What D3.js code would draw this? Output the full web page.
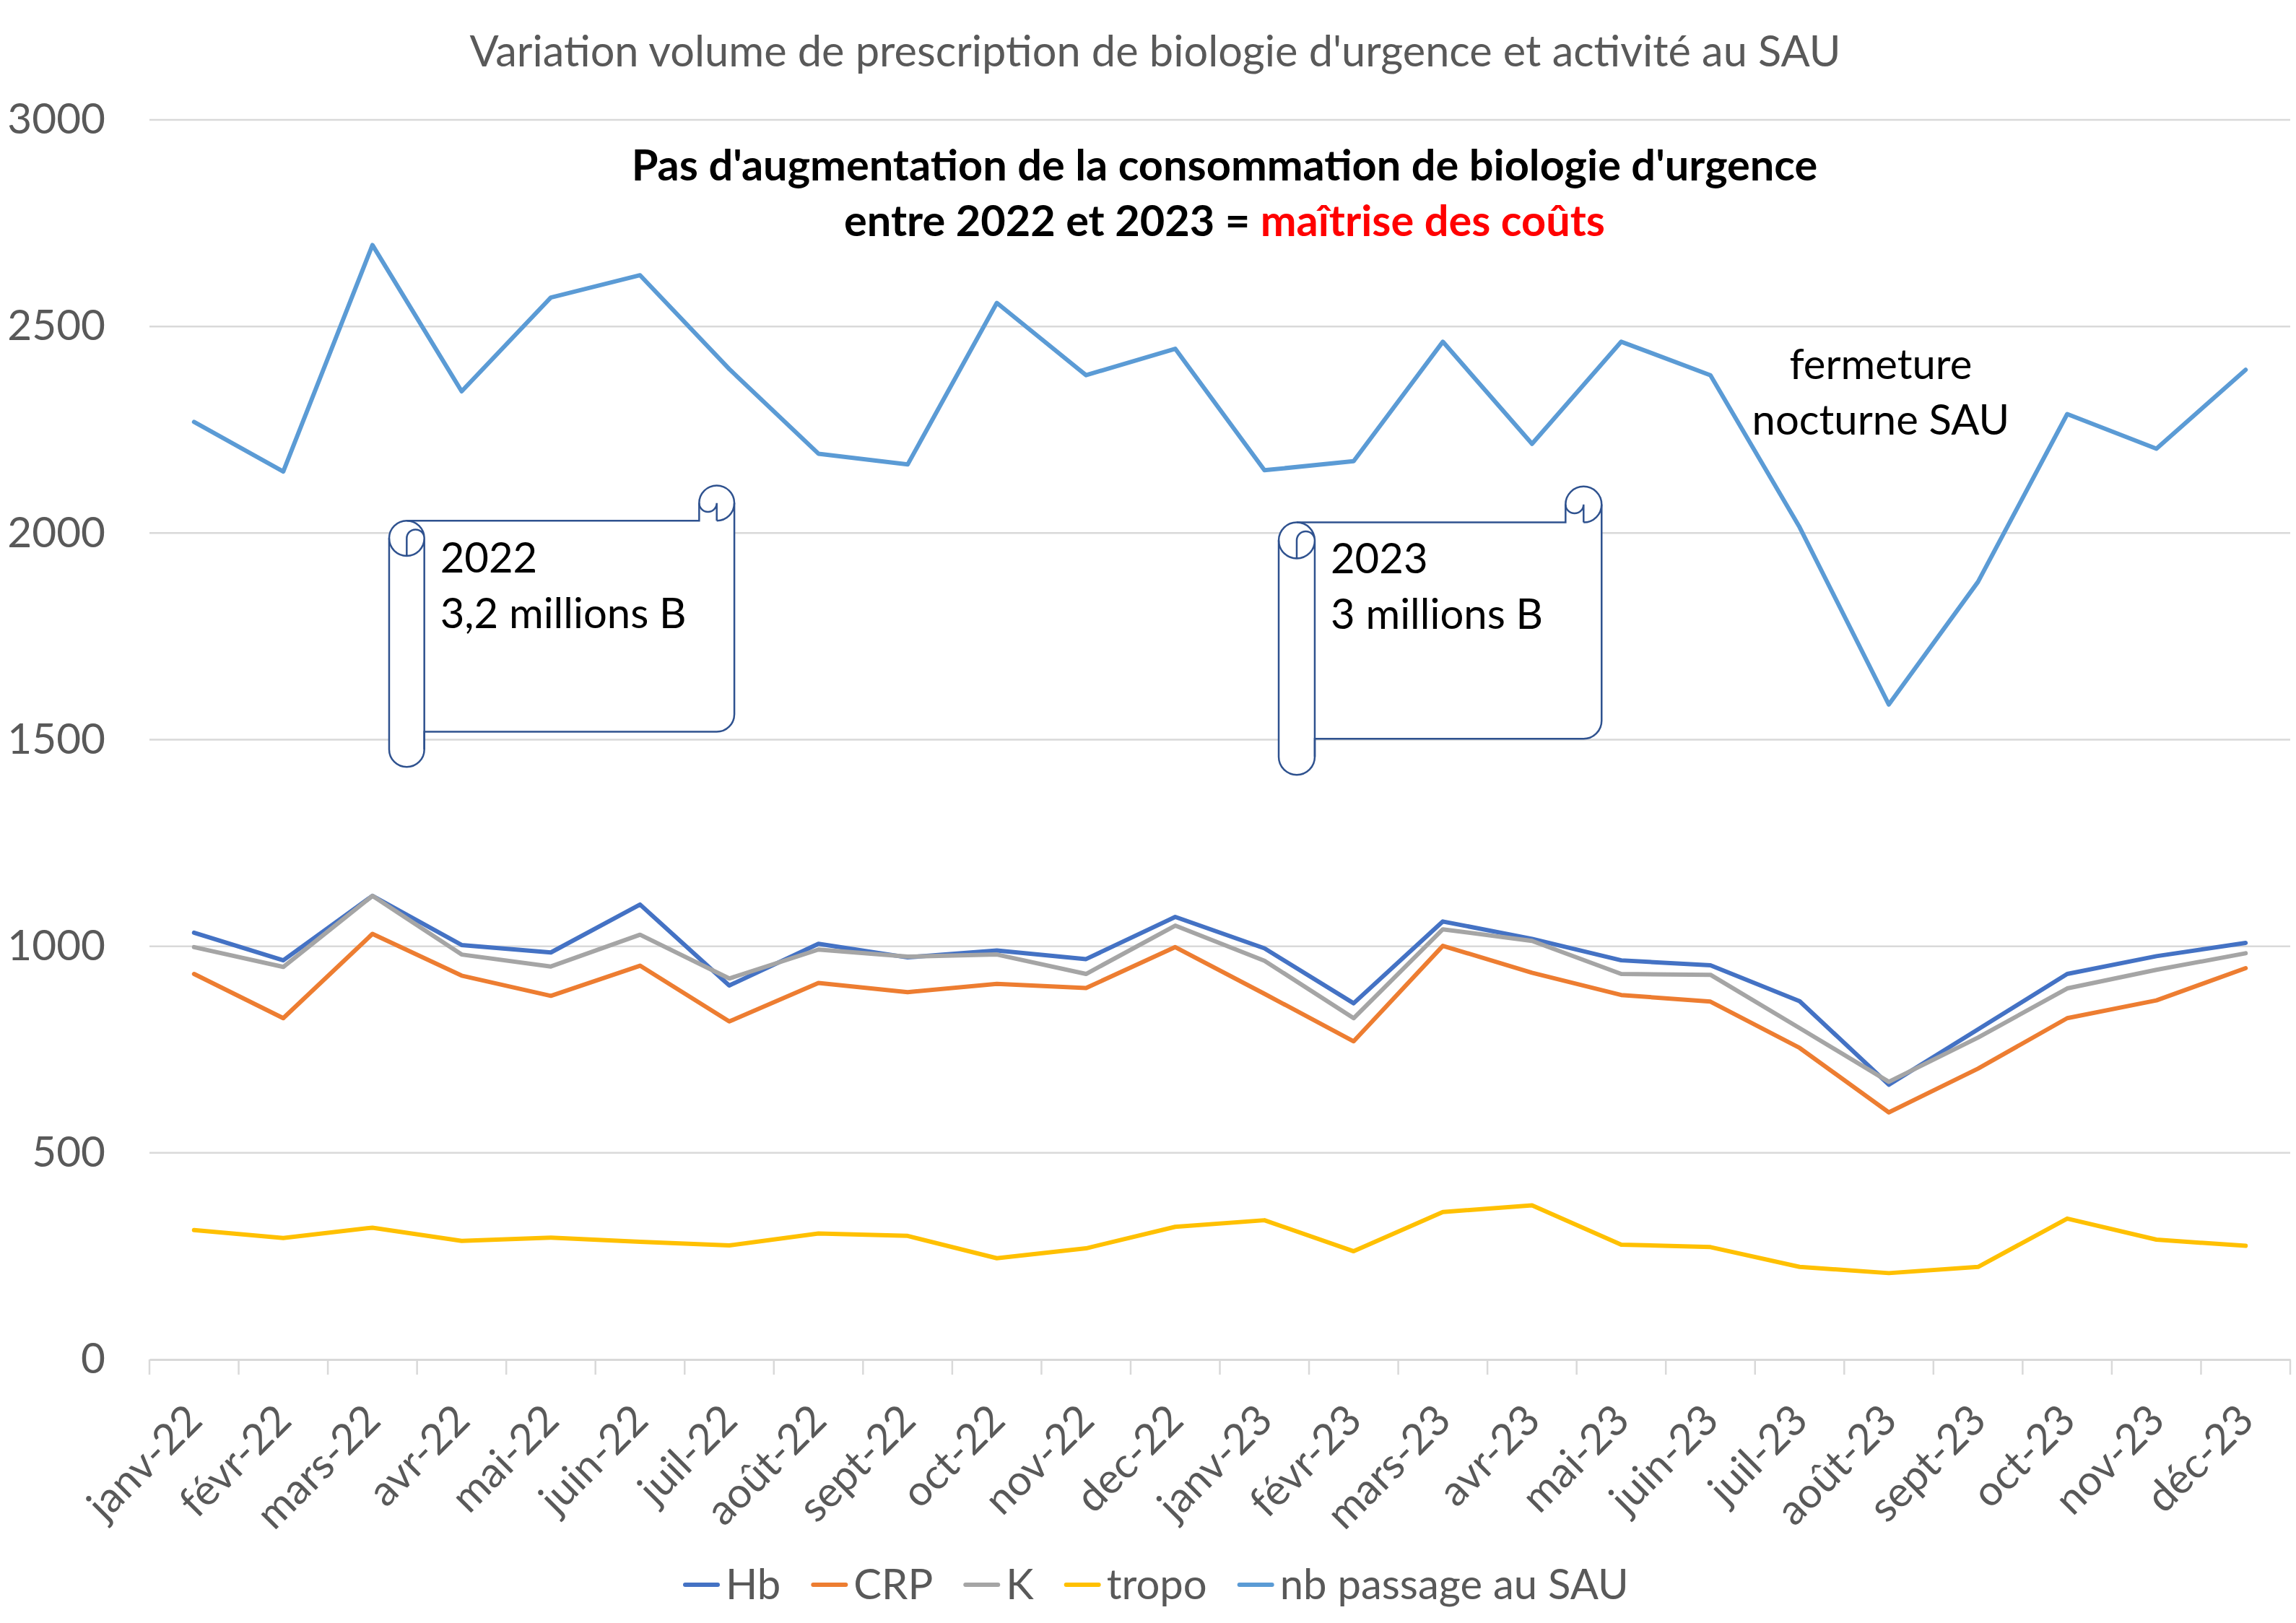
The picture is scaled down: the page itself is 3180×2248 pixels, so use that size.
<!DOCTYPE html>
<html>
<head>
<meta charset="utf-8">
<script src="https://cdn.jsdelivr.net/npm/d3@7"></script>
<style>
  body { margin: 0; background: #fff; }
  text { font-family: Lato, "Open Sans", sans-serif; }
</style>
</head>
<body>
<div id="chart"></div>
<script>
// months on the x axis
const months = ["janv-22", "févr-22", "mars-22", "avr-22", "mai-22", "juin-22", "juil-22", "août-22",
    "sept-22", "oct-22", "nov-22", "dec-22", "janv-23", "févr-23", "mars-23", "avr-23", "mai-23",
    "juin-23", "juil-23", "août-23", "sept-23", "oct-23", "nov-23", "déc-23"];

const hb    = [1033, 966, 1122, 1003, 985, 1101, 905, 1006, 973, 990, 969, 1071, 995, 862, 1060, 1018, 966, 954, 867, 665, 799, 933, 976, 1008];
const crp   = [933, 826, 1030, 929, 880, 953, 818, 911, 889, 909, 899, 998, 885, 770, 1001, 936, 882, 866, 754, 598, 704, 826, 869, 947];
const kal   = [998, 950, 1122, 980, 951, 1028, 922, 992, 975, 980, 933, 1050, 965, 826, 1041, 1013, 933, 931, 802, 672, 779, 898, 943, 983];
const tropo = [313, 294, 319, 287, 295, 285, 276, 305, 299, 245, 269, 321, 337, 262, 357, 373, 278, 272, 224, 209, 224, 341, 290, 275];
const sau   = [2269, 2149, 2697, 2343, 2570, 2624, 2397, 2192, 2166, 2557, 2382, 2446, 2152, 2174, 2463, 2216, 2463, 2382, 2014, 1585, 1882, 2288, 2204, 2395];

const yTicks = [0, 500, 1000, 1500, 2000, 2500, 3000];

const seriesNames = ["Hb", "CRP", "K", "tropo", "nb passage au SAU"];
const seriesValues = [hb, crp, kal, tropo, sau];
const seriesColors = ["#4472C4", "#ED7D31", "#A5A5A5", "#FFC000", "#5B9BD5"];

const title = "Variation volume de prescription de biologie d'urgence et activité au SAU";

const width = 3180, height = 2248;
const plot = { left: 207, right: 3172, top: 166, bottom: 1883 };

const svg = d3.select("#chart").append("svg")
    .attr("width", width)
    .attr("height", height);

svg.append("rect").attr("width", width).attr("height", height).attr("fill", "#fff");

const x = d3.scaleBand().domain(months).range([plot.left, plot.right]).padding(0);
const xc = d => x(d) + x.bandwidth() / 2;
// continuous position in "category units" used for annotations
const xu = d3.scaleLinear().domain([0, months.length]).range([plot.left, plot.right]);
const y = d3.scaleLinear().domain([0, 3000]).range([plot.bottom, plot.top]);

// gridlines
svg.append("g").selectAll("line")
    .data(yTicks.filter(t => t > 0))
    .join("line")
    .attr("x1", plot.left).attr("x2", plot.right)
    .attr("y1", d => y(d)).attr("y2", d => y(d))
    .attr("stroke", "#D9D9D9")
    .attr("stroke-width", 2.5);

// y axis labels
const yAxis = svg.append("g")
    .attr("transform", `translate(${plot.left},0)`)
    .call(d3.axisLeft(y).tickValues(yTicks).tickFormat(d3.format("d")).tickSize(0).tickPadding(61));
yAxis.select(".domain").remove();
yAxis.selectAll("text")
    .attr("fill", "#595959")
    .style("font-size", "58.5px")
    .style("font-family", "Lato, sans-serif");

// x axis
const xAxis = svg.append("g")
    .attr("transform", `translate(0,${plot.bottom})`)
    .call(d3.axisBottom(x).tickSize(0));
xAxis.select(".domain").attr("stroke", "#D9D9D9").attr("stroke-width", 3);
xAxis.selectAll("text")
    .attr("fill", "#595959")
    .attr("y", 0)
    .attr("dy", "0.35em")
    .attr("text-anchor", "end")
    .attr("transform", "translate(0,73) rotate(-45)")
    .style("font-size", "58.5px")
    .style("font-family", "Lato, sans-serif");

// tick marks between categories
svg.append("g").selectAll("line")
    .data(d3.range(months.length + 1))
    .join("line")
    .attr("x1", d => xu(d)).attr("x2", d => xu(d))
    .attr("y1", plot.bottom).attr("y2", plot.bottom + 21)
    .attr("stroke", "#D9D9D9")
    .attr("stroke-width", 2.5);

// lines
const line = d3.line()
    .x((d, i) => xc(months[i]))
    .y(d => y(d));

svg.append("g").selectAll("path")
    .data(seriesValues)
    .join("path")
    .attr("d", d => line(d))
    .attr("fill", "none")
    .attr("stroke", (d, i) => seriesColors[i])
    .attr("stroke-width", 6)
    .attr("stroke-linejoin", "round")
    .attr("stroke-linecap", "round");

// title
svg.append("text")
    .attr("x", 1600).attr("y", 92)
    .attr("text-anchor", "middle")
    .attr("fill", "#595959")
    .style("font-size", "59.5px")
    .text(title);

// bold message
svg.append("text")
    .attr("x", 1696).attr("y", 250)
    .attr("text-anchor", "middle")
    .style("font-size", "59.5px")
    .style("font-weight", "bold")
    .text("Pas d'augmentation de la consommation de biologie d'urgence");

const msg2 = svg.append("text")
    .attr("x", 1696).attr("y", 327)
    .attr("text-anchor", "middle")
    .style("font-size", "59.5px")
    .style("font-weight", "bold");
msg2.append("tspan").text("entre 2022 et 2023 = ");
msg2.append("tspan").attr("fill", "#FF0000").text("maîtrise des coûts");

// vertical scroll shapes (like the Office "vertical scroll")
function scrollPath(l, t, r, b) {
    const ch = Math.min(r - l, b - t) * 0.125, c2 = ch / 2, c4 = ch / 4;
    const outline = `M${l},${t + ch + c2} A${c2},${c2} 0 0 1 ${l + c2},${t + ch}` +
        ` L${r - ch},${t + ch} L${r - ch},${t + c2} A${c2},${c2} 0 0 1 ${r},${t + c2}` +
        ` L${r},${b - ch - c2} A${c2},${c2} 0 0 1 ${r - c2},${b - ch}` +
        ` L${l + ch},${b - ch} L${l + ch},${b - c2} A${c2},${c2} 0 0 1 ${l},${b - c2} Z`;
    const details =
        // left roll: lower half of the top circle and the small curl
        ` M${l},${t + ch + c2} A${c2},${c2} 0 0 0 ${l + ch},${t + ch + c2}` +
        ` A${c2},${c2} 0 0 0 ${l + c2},${t + ch}` +
        ` M${l + c2},${t + ch + ch} L${l + c2},${t + ch + c2} A${c4},${c4} 0 0 1 ${l + ch},${t + ch + c2}` +
        ` M${l + ch},${t + ch + c2} L${l + ch},${b - c2}` +
        // right curl
        ` M${r - ch},${t + c2} A${c4},${c4} 0 0 0 ${r - c2},${t + c2} L${r - c2},${t + ch}` +
        ` M${r},${t + c2} A${c2},${c2} 0 0 1 ${r - c2},${t + ch}`;
    return [outline, details];
}

const scrolls = [
    { x0: 2.687, x1: 6.557, v0: 2115, v1: 1434, lines: ["2022", "3,2 millions B"] },
    { x0: 12.66, x1: 16.28, v0: 2113, v1: 1415, lines: ["2023", "3 millions B"] }
];

scrolls.forEach(s => {
    const l = xu(s.x0), r = xu(s.x1), t = y(s.v0), b = y(s.v1);
    const [outline, details] = scrollPath(l, t, r, b);
    const g = svg.append("g");
    g.append("path").attr("d", outline)
        .attr("fill", "#fff").attr("stroke", "#2F528F").attr("stroke-width", 2.5);
    g.append("path").attr("d", details)
        .attr("fill", "none").attr("stroke", "#2F528F").attr("stroke-width", 2.5);
    const ch = Math.min(r - l, b - t) * 0.125;
    g.selectAll("text").data(s.lines).join("text")
        .attr("x", l + ch + 22)
        .attr("y", (d, i) => t + 120 + i * 77)
        .style("font-size", "58px")
        .text(d => d);
});

// closing note
svg.append("g").selectAll("text")
    .data(["fermeture", "nocturne SAU"])
    .join("text")
    .attr("x", xu(19.41))
    .attr("y", (d, i) => y(2376) + 2 + i * 77)
    .attr("text-anchor", "middle")
    .style("font-size", "58px")
    .text(d => d);

// legend
const legend = svg.append("g").attr("transform", "translate(0,2195)");
let lx = 949;
seriesNames.forEach((name, i) => {
    legend.append("line")
        .attr("x1", lx).attr("x2", lx + 45)
        .attr("stroke", seriesColors[i])
        .attr("stroke-width", 6)
        .attr("stroke-linecap", "round");
    const t = legend.append("text")
        .attr("x", lx + 56)
        .attr("dy", "0.35em")
        .attr("fill", "#595959")
        .style("font-size", "58px")
        .text(name);
    lx += 56 + t.node().getComputedTextLength() + 45;
});
</script>
</body>
</html>
